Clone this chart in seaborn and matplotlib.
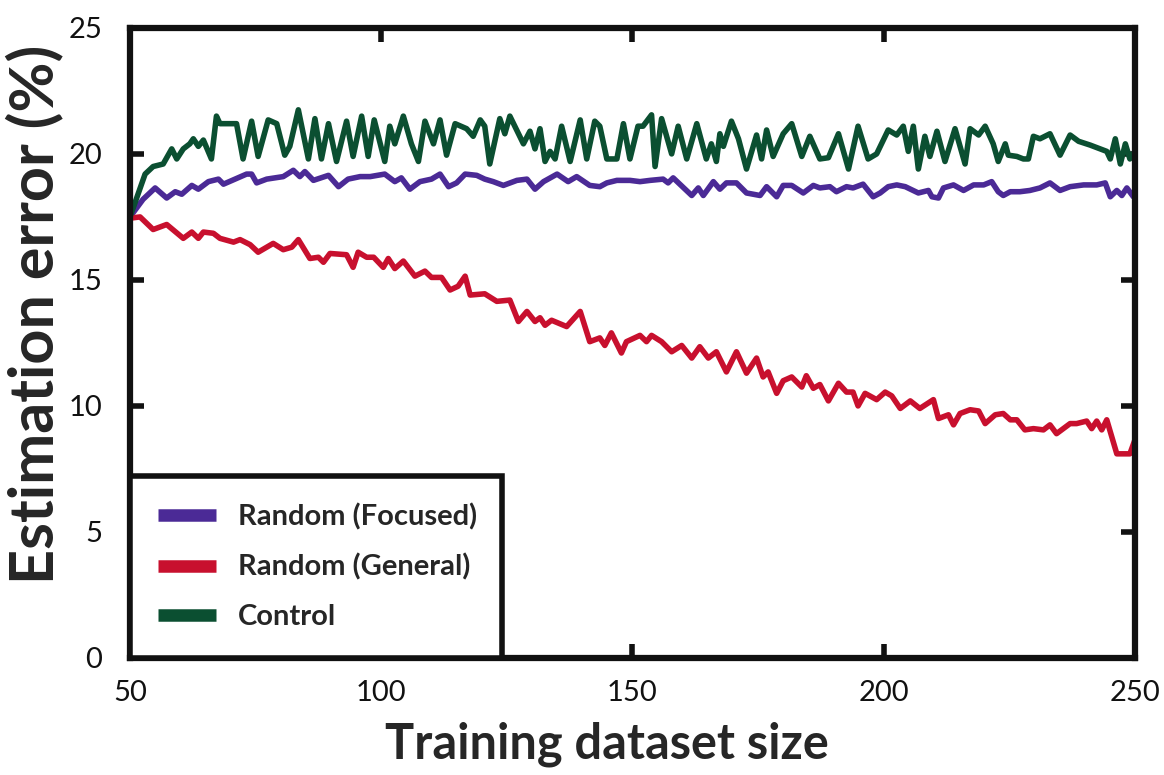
import pandas as pd
import matplotlib
matplotlib.use("Agg")
import matplotlib.pyplot as plt
import seaborn as sns

# ------------------------------------------------------------------
# Estimation error vs training dataset size
# ------------------------------------------------------------------

series_names = ["Random (Focused)", "Random (General)", "Control"]
series_colors = ["#4B2A96", "#C8102E", "#0B4F31"]

focused_x = [50, 52.6, 55, 57.3, 59, 60.3, 62.3, 63.6, 65.6, 67.6, 68.6, 70.9, 73.2, 74.2,
             75.2, 77.2, 80.5, 82.5, 83.8, 84.8, 86.5, 89.5, 91.5, 93.4, 95.8, 97.8, 100.7,
             102.7, 104, 105.7, 107.7, 110, 111.7, 113.4, 115, 116.7, 119, 120.6, 122.3,
             124.3, 127, 129, 130.6, 132.3, 135, 137.2, 138.9, 141.5, 143.5, 144.9, 146.9,
             149.5, 151.5, 153.5, 156.1, 157.1, 158.1, 161.8, 163.1, 164.1, 166.1, 167.4,
             168.7, 170.7, 172.7, 175.4, 176.7, 178.7, 180, 181.7, 184, 186, 187.3, 189.3,
             190.6, 192.6, 193.9, 195.9, 197.9, 199.3, 200.9, 202.6, 204.3, 206.9, 208.9,
             209.6, 210.9, 211.9, 213.9, 215.9, 217.9, 219.9, 221.5, 222.8, 223.8, 225.2,
             227.1, 229.1, 231.1, 233.1, 235.1, 237.1, 239.8, 242.4, 244.1, 245.1, 246.4,
             247.4, 248.4, 249.7]
focused_y = [17.5, 18.2, 18.65, 18.25, 18.5, 18.4, 18.75, 18.6, 18.9, 19.0, 18.8, 19.0, 19.2,
             19.2, 18.85, 19.0, 19.1, 19.35, 19.1, 19.3, 18.95, 19.15, 18.7, 19.0, 19.1, 19.1,
             19.2, 18.9, 19.05, 18.6, 18.9, 19.0, 19.2, 18.7, 18.85, 19.2, 19.15, 19.0, 18.9,
             18.75, 18.95, 19.0, 18.6, 18.9, 19.2, 18.9, 19.1, 18.75, 18.7, 18.85, 18.95,
             18.95, 18.9, 18.95, 19.0, 18.85, 19.05, 18.35, 18.65, 18.35, 18.9, 18.6, 18.85,
             18.85, 18.45, 18.35, 18.7, 18.3, 18.75, 18.75, 18.45, 18.75, 18.65, 18.7, 18.5,
             18.7, 18.65, 18.8, 18.3, 18.45, 18.7, 18.77, 18.7, 18.45, 18.55, 18.3, 18.25,
             18.65, 18.77, 18.55, 18.77, 18.77, 18.9, 18.5, 18.35, 18.5, 18.5, 18.55, 18.65,
             18.85, 18.55, 18.7, 18.77, 18.77, 18.85, 18.3, 18.55, 18.35, 18.65, 18.3]

general_x = [50, 52, 54.6, 57.3, 60.6, 62.3, 63.6, 64.6, 66.6, 67.9, 70.6, 71.9, 73.9, 75.5,
             78.5, 80.5, 82.2, 83.5, 85.8, 87.5, 88.5, 89.8, 93.1, 94.4, 95.4, 97.1, 98.5,
             100.4, 101.4, 102.7, 104.4, 106.7, 108.7, 110, 112, 113.7, 115.3, 116.7, 117.7,
             120.6, 123, 125.6, 127.3, 129, 130.6, 131.6, 132.6, 133.9, 136.9, 139.6, 141.5,
             143.5, 144.5, 145.8, 147.8, 148.8, 151.5, 152.8, 153.8, 155.8, 157.8, 159.8,
             161.8, 163.4, 165.1, 166.7, 168.7, 170.7, 172.7, 174.7, 176, 177, 178.7, 180,
             181.7, 183.7, 184.6, 186, 187.3, 189, 191, 192.6, 193.9, 194.9, 196.3, 198.6,
             200.3, 201.6, 203.3, 205.3, 207.2, 209.9, 210.9, 212.9, 213.9, 215.2, 217.2,
             218.9, 220.2, 222.2, 223.8, 225.2, 226.5, 228.1, 229.8, 231.8, 233.1, 234.4,
             237.1, 238.4, 240.4, 241.4, 242.4, 243.4, 244.4, 246.4, 249, 250]
general_y = [17.45, 17.5, 17.0, 17.2, 16.65, 16.9, 16.65, 16.9, 16.85, 16.65, 16.5, 16.6, 16.4,
             16.1, 16.45, 16.2, 16.3, 16.6, 15.85, 15.9, 15.7, 16.05, 16.0, 15.5, 16.1, 15.9,
             15.9, 15.5, 15.85, 15.45, 15.75, 15.15, 15.35, 15.1, 15.1, 14.6, 14.75, 15.15,
             14.4, 14.45, 14.15, 14.2, 13.35, 13.75, 13.35, 13.5, 13.2, 13.4, 13.15, 13.75,
             12.55, 12.7, 12.4, 12.9, 12.1, 12.55, 12.8, 12.55, 12.8, 12.55, 12.15, 12.4,
             11.9, 12.35, 11.9, 12.15, 11.35, 12.15, 11.3, 11.9, 11.15, 11.35, 10.5, 11.0,
             11.15, 10.75, 11.2, 10.7, 10.85, 10.2, 10.9, 10.55, 10.55, 10.0, 10.5, 10.25,
             10.55, 10.4, 9.9, 10.2, 9.9, 10.25, 9.5, 9.65, 9.25, 9.7, 9.85, 9.8, 9.3, 9.65,
             9.7, 9.45, 9.45, 9.05, 9.1, 9.05, 9.25, 8.9, 9.3, 9.3, 9.4, 9.1, 9.4, 9.05, 9.45,
             8.1, 8.1, 8.65]

control_x = [50, 53, 54.6, 56.6, 58.3, 59.3, 60.6, 61.9, 62.6, 63.6, 64.6, 66.2, 67.2, 67.9,
             71.2, 72.5, 74.2, 75.5, 77.5, 79.2, 80.8, 81.8, 83.5, 85.5, 86.8, 88.1, 89.5,
             91.1, 93.1, 94.4, 96.1, 97.4, 98.6, 100.7, 101.7, 102.7, 104.4, 106, 107.4,
             108.7, 110.4, 111.7, 113, 114.7, 117, 118.3, 119.7, 120.6, 121.6, 123.6, 124.6,
             125.6, 128.3, 129.6, 130.6, 131.6, 132.6, 133.6, 134.6, 135.9, 137.6, 139.6,
             140.9, 142.5, 143.5, 144.9, 146.9, 148.2, 149.5, 151.1, 152.1, 153.8, 154.5,
             155.8, 157.8, 159.1, 160.8, 162.8, 164.7, 165.7, 166.7, 167.4, 168.1, 169.7,
             171.1, 172.7, 174.7, 175.7, 176.7, 178, 180, 181.7, 183.7, 185.3, 187.3, 189,
             191, 193, 194.9, 196.9, 198.6, 200.9, 202.6, 203.9, 204.9, 205.9, 206.9, 208.2,
             209.2, 210.6, 212.2, 214.2, 216.2, 217.2, 218.9, 220.2, 221.8, 222.8, 224.2,
             224.8, 226.5, 227.8, 228.8, 229.8, 231.1, 233.1, 235.1, 237.1, 238.8, 241.1,
             243.1, 244.4, 245.1, 246.1, 247.1, 248.1, 249, 250]
control_y = [17.5, 19.2, 19.5, 19.6, 20.2, 19.8, 20.2, 20.4, 20.6, 20.3, 20.55, 19.8, 21.5,
             21.2, 21.2, 19.8, 21.3, 19.9, 21.35, 21.2, 19.95, 20.3, 21.75, 19.8, 21.4, 19.8,
             21.2, 19.7, 21.3, 19.9, 21.5, 19.9, 21.35, 19.7, 21.1, 20.4, 21.5, 20.4, 19.7,
             21.3, 20.4, 21.35, 19.95, 21.2, 21.0, 20.7, 21.35, 21.1, 19.6, 21.4, 20.8, 21.5,
             20.4, 20.9, 20.2, 21.0, 19.7, 20.1, 19.8, 21.1, 19.7, 21.35, 19.8, 21.3, 21.1,
             19.8, 19.8, 21.2, 19.8, 21.1, 21.1, 21.55, 19.5, 21.4, 20.0, 21.1, 19.8, 21.2,
             19.8, 20.4, 19.7, 20.8, 20.3, 21.3, 20.6, 19.4, 20.75, 19.8, 20.95, 19.9, 20.8,
             21.2, 19.9, 20.7, 19.8, 19.85, 20.8, 19.4, 21.1, 19.8, 20.0, 20.95, 20.75, 21.1,
             20.1, 21.1, 19.4, 20.7, 19.9, 20.9, 19.7, 21.0, 19.6, 21.0, 20.75, 21.1, 20.4,
             19.7, 20.4, 19.95, 19.9, 19.8, 19.8, 20.7, 20.6, 20.8, 19.95, 20.75, 20.5,
             20.35, 20.2, 20.1, 19.8, 20.6, 19.6, 20.4, 19.8, 20.1]

x_ticks = [50, 100, 150, 200, 250]
y_ticks = [0, 5, 10, 15, 20, 25]

# long-form table for seaborn
frames = []
for name, xs, ys in zip(series_names,
                        [focused_x, general_x, control_x],
                        [focused_y, general_y, control_y]):
    frames.append(pd.DataFrame({"size": xs, "error": ys, "series": name}))
df = pd.concat(frames, ignore_index=True)

sns.set_theme(style="ticks")
plt.rcParams["font.family"] = ["Lato", "DejaVu Sans"]

fig = plt.figure(figsize=(11.64, 7.75), dpi=100)
ax = fig.add_axes([0.1117, 0.151, 0.8633, 0.813])

sns.lineplot(data=df, x="size", y="error", hue="series", hue_order=series_names,
             palette=dict(zip(series_names, series_colors)), estimator=None,
             sort=False, linewidth=4.0, ax=ax)

ax.set_xlim(50, 250)
ax.set_ylim(0, 25)
ax.set_xticks(x_ticks)
ax.set_yticks(y_ticks)

for side in ["top", "bottom", "left", "right"]:
    ax.spines[side].set_visible(True)
    ax.spines[side].set_linewidth(4.5)
    ax.spines[side].set_color("#111111")

ax.tick_params(direction="in", top=True, right=True, length=10, width=4,
               color="#111111", labelsize=21, labelcolor="#111111")
ax.tick_params(axis="x", pad=16)
ax.tick_params(axis="y", pad=20)

ax.set_xlabel("Training dataset size", fontsize=35, fontweight="bold", labelpad=11)
ax.set_ylabel("Estimation error (%)", fontsize=44, fontweight="bold", labelpad=4)
# the labels in the original sit a little off-centre
ax.xaxis.label.set_x(0.475)
ax.yaxis.label.set_y(0.545)

# legend in the lower-left corner with a heavy black frame
handles, labels = ax.get_legend_handles_labels()
leg = ax.legend(handles, labels, loc="lower left", bbox_to_anchor=(0, 0, 0.37, 0.28),
                mode="expand", borderaxespad=0, fancybox=False, framealpha=1,
                edgecolor="#111111", prop={"weight": "bold", "size": 21},
                handlelength=2.0, handletextpad=0.75, labelspacing=0.8, borderpad=0.95)
leg.get_frame().set_linewidth(4)
for line in leg.get_lines():
    line.set_linewidth(9)
    line.set_solid_capstyle("butt")

fig.savefig("out.png", dpi=100)
